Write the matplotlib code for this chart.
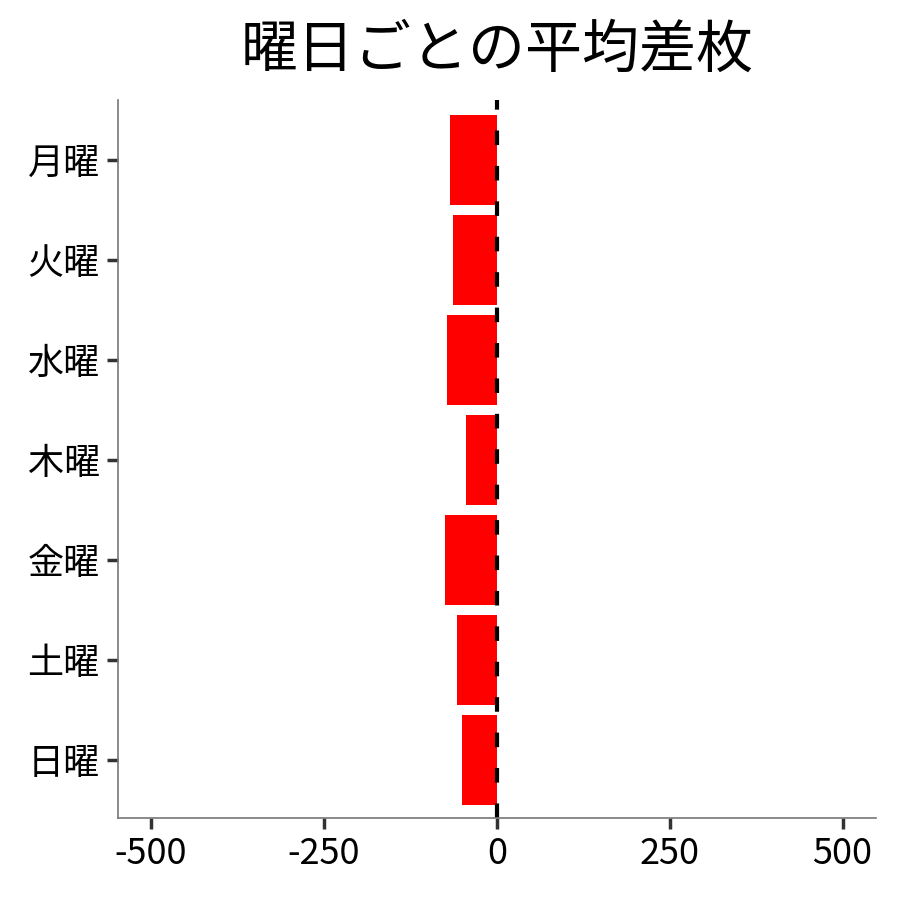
import matplotlib
matplotlib.use("Agg")
import matplotlib.pyplot as plt

plt.rcParams['font.family'] = ['Noto Sans CJK JP', 'DejaVu Sans']

# データ
days = ["月曜", "火曜", "水曜", "木曜", "金曜", "土曜", "日曜"]
diffs = [-68, -64, -72, -45, -75, -58, -51]
xticks = [-500, -250, 0, 250, 500]

fig = plt.figure(figsize=(9, 9), dpi=100)
ax = fig.add_axes([0.131, 0.091, 0.842, 0.798])

ypos = list(range(len(days)))[::-1]
ax.barh(ypos, diffs, height=0.9, color="#ff0000")
ax.axvline(0, color="black", linewidth=3, linestyle=(0, (3.5, 5)))

ax.set_xlim(-548, 548)
ax.set_ylim(-0.58, 6.6)
ax.set_xticks(xticks)
ax.set_xticklabels([str(v) for v in xticks])
ax.set_yticks(ypos)
ax.set_yticklabels(days)

for s in ["top", "right"]:
    ax.spines[s].set_visible(False)
for s in ["left", "bottom"]:
    ax.spines[s].set_color("#777777")
    ax.spines[s].set_linewidth(1.2)

ax.tick_params(axis="both", length=8, width=2.5, color="#333333",
               labelsize=26, labelcolor="black", pad=5)

ax.set_title("曜日ごとの平均差枚", fontsize=41, pad=24)

fig.savefig("out.png", dpi=100)
